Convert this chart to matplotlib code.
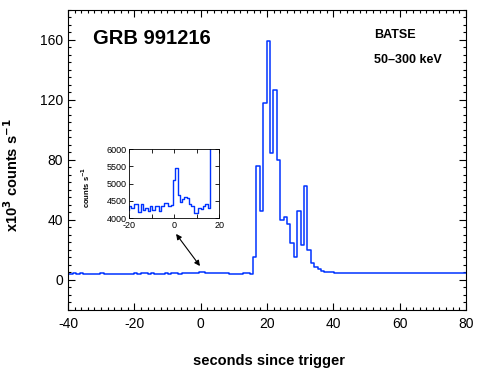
import numpy as np
import matplotlib
matplotlib.use('Agg')
import matplotlib.pyplot as plt
from matplotlib.ticker import MultipleLocator

plt.rcParams['font.family'] = ['Liberation Sans', 'DejaVu Sans']
plt.rcParams['axes.unicode_minus'] = False

## Light curve data (BATSE 50-300 keV), 1.024 s bins, counts per second

bin_width = 1.024
first_edge = -40.54

# pre-burst background, t = -40.5 .. -20
pre_rates = [4250, 4250, 4650, 4250, 4650, 4250, 4250, 4250, 4250, 4250,
             4650, 4250, 4250, 4250, 4250, 4250, 4250, 4250, 4250, 4250]

# background seen in the inset, t = -20 .. 15.8
inset_rates = [4364, 4306, 4404, 4404, 4182, 4404, 4248, 4306, 4210, 4346,
               4230, 4346, 4346, 4210, 4346, 4433, 4433, 4364, 4390,
               5105, 5443, 4672, 4462, 4548, 4624, 4600, 4404, 4346, 4144,
               4144, 4306, 4260, 4346, 4404, 4287]

# main burst, t = 15.8 .. 44.5
burst_rates = [15100, 76000, 45800, 117800, 159000, 84400, 126400, 79800,
               39800, 41800, 37100, 24400, 15100, 45800, 23100, 62400, 19800,
               11100, 8400, 7100, 6200, 5600, 5600, 5600, 4900, 4900, 4900,
               4900]

tail_rate = 4400
tail_end = 80.0

rates = np.array(pre_rates + inset_rates + burst_rates + [tail_rate], dtype=float)
edges = first_edge + bin_width * np.arange(len(rates))
edges = np.append(edges, tail_end)

# step plot needs value repeated at the last edge
step_x = edges
step_y = np.append(rates, rates[-1])

## Figure

fig = plt.figure(figsize=(4.96, 3.82), dpi=100)
ax = fig.add_axes([0.137, 0.1885, 0.8025, 0.7855])

ax.step(step_x, step_y / 1000.0, where='post', color='#0033ff', lw=1.1)

ax.set_xlim(-40, 80)
ax.set_ylim(-20, 180)
ax.xaxis.set_major_locator(MultipleLocator(20))
ax.xaxis.set_minor_locator(MultipleLocator(2))
ax.yaxis.set_major_locator(MultipleLocator(40))
ax.yaxis.set_minor_locator(MultipleLocator(5))
ax.tick_params(which='both', direction='in', top=True, right=True, labelsize=10)
ax.tick_params(which='major', length=5, width=0.8)
ax.tick_params(which='minor', length=2.5, width=0.8)
ax.tick_params(axis='x', pad=5)
for s in ax.spines.values():
    s.set_linewidth(0.8)

ax.set_xlabel('seconds since trigger', fontsize=10.5, fontweight='bold')
ax.xaxis.set_label_coords(0.504, -0.145)
ax.set_ylabel(r'x10$^{\mathbf{3}}$ counts s$^{\mathbf{-1}}$', fontsize=10.5, fontweight='bold')
ax.yaxis.set_label_coords(-0.118, 0.45)

fig.text(93 / 496, 1 - 38 / 382, 'GRB 991216', fontsize=14.5, fontweight='bold',
         ha='left', va='center')
fig.text(374 / 496, 1 - 35 / 382, 'BATSE', fontsize=9, fontweight='bold',
         ha='left', va='center')
fig.text(374 / 496, 1 - 60 / 382, '50\u2013300 keV', fontsize=9, fontweight='bold',
         ha='left', va='center')

# double arrow pointing at the precursor
ax.annotate('', xy=(-0.2, 9.3), xytext=(-7.4, 30.7),
            arrowprops=dict(arrowstyle='<|-|>', color='black', lw=0.8,
                            mutation_scale=8, shrinkA=0, shrinkB=0))

## Inset zoom on the pre-burst

ins = fig.add_axes([0.2607, 0.4285, 0.1815, 0.1814])
ins.step(step_x, step_y, where='post', color='#0033ff', lw=1.0)
ins.set_xlim(-20, 20)
ins.set_ylim(4000, 6000)
ins.xaxis.set_major_locator(MultipleLocator(20))
ins.xaxis.set_minor_locator(MultipleLocator(10))
ins.yaxis.set_major_locator(MultipleLocator(500))
ins.tick_params(which='both', direction='in', top=True, right=True, labelsize=6.5,
                pad=2)
ins.tick_params(which='major', length=3, width=0.6)
ins.tick_params(which='minor', length=3, width=0.6)
for s in ins.spines.values():
    s.set_linewidth(0.6)
ins.set_ylabel(r'counts s$^{\mathbf{-1}}$', fontsize=5.5, fontweight='bold')
ins.yaxis.set_label_coords(-0.41, 0.45)

fig.savefig('out.png', dpi=100)
